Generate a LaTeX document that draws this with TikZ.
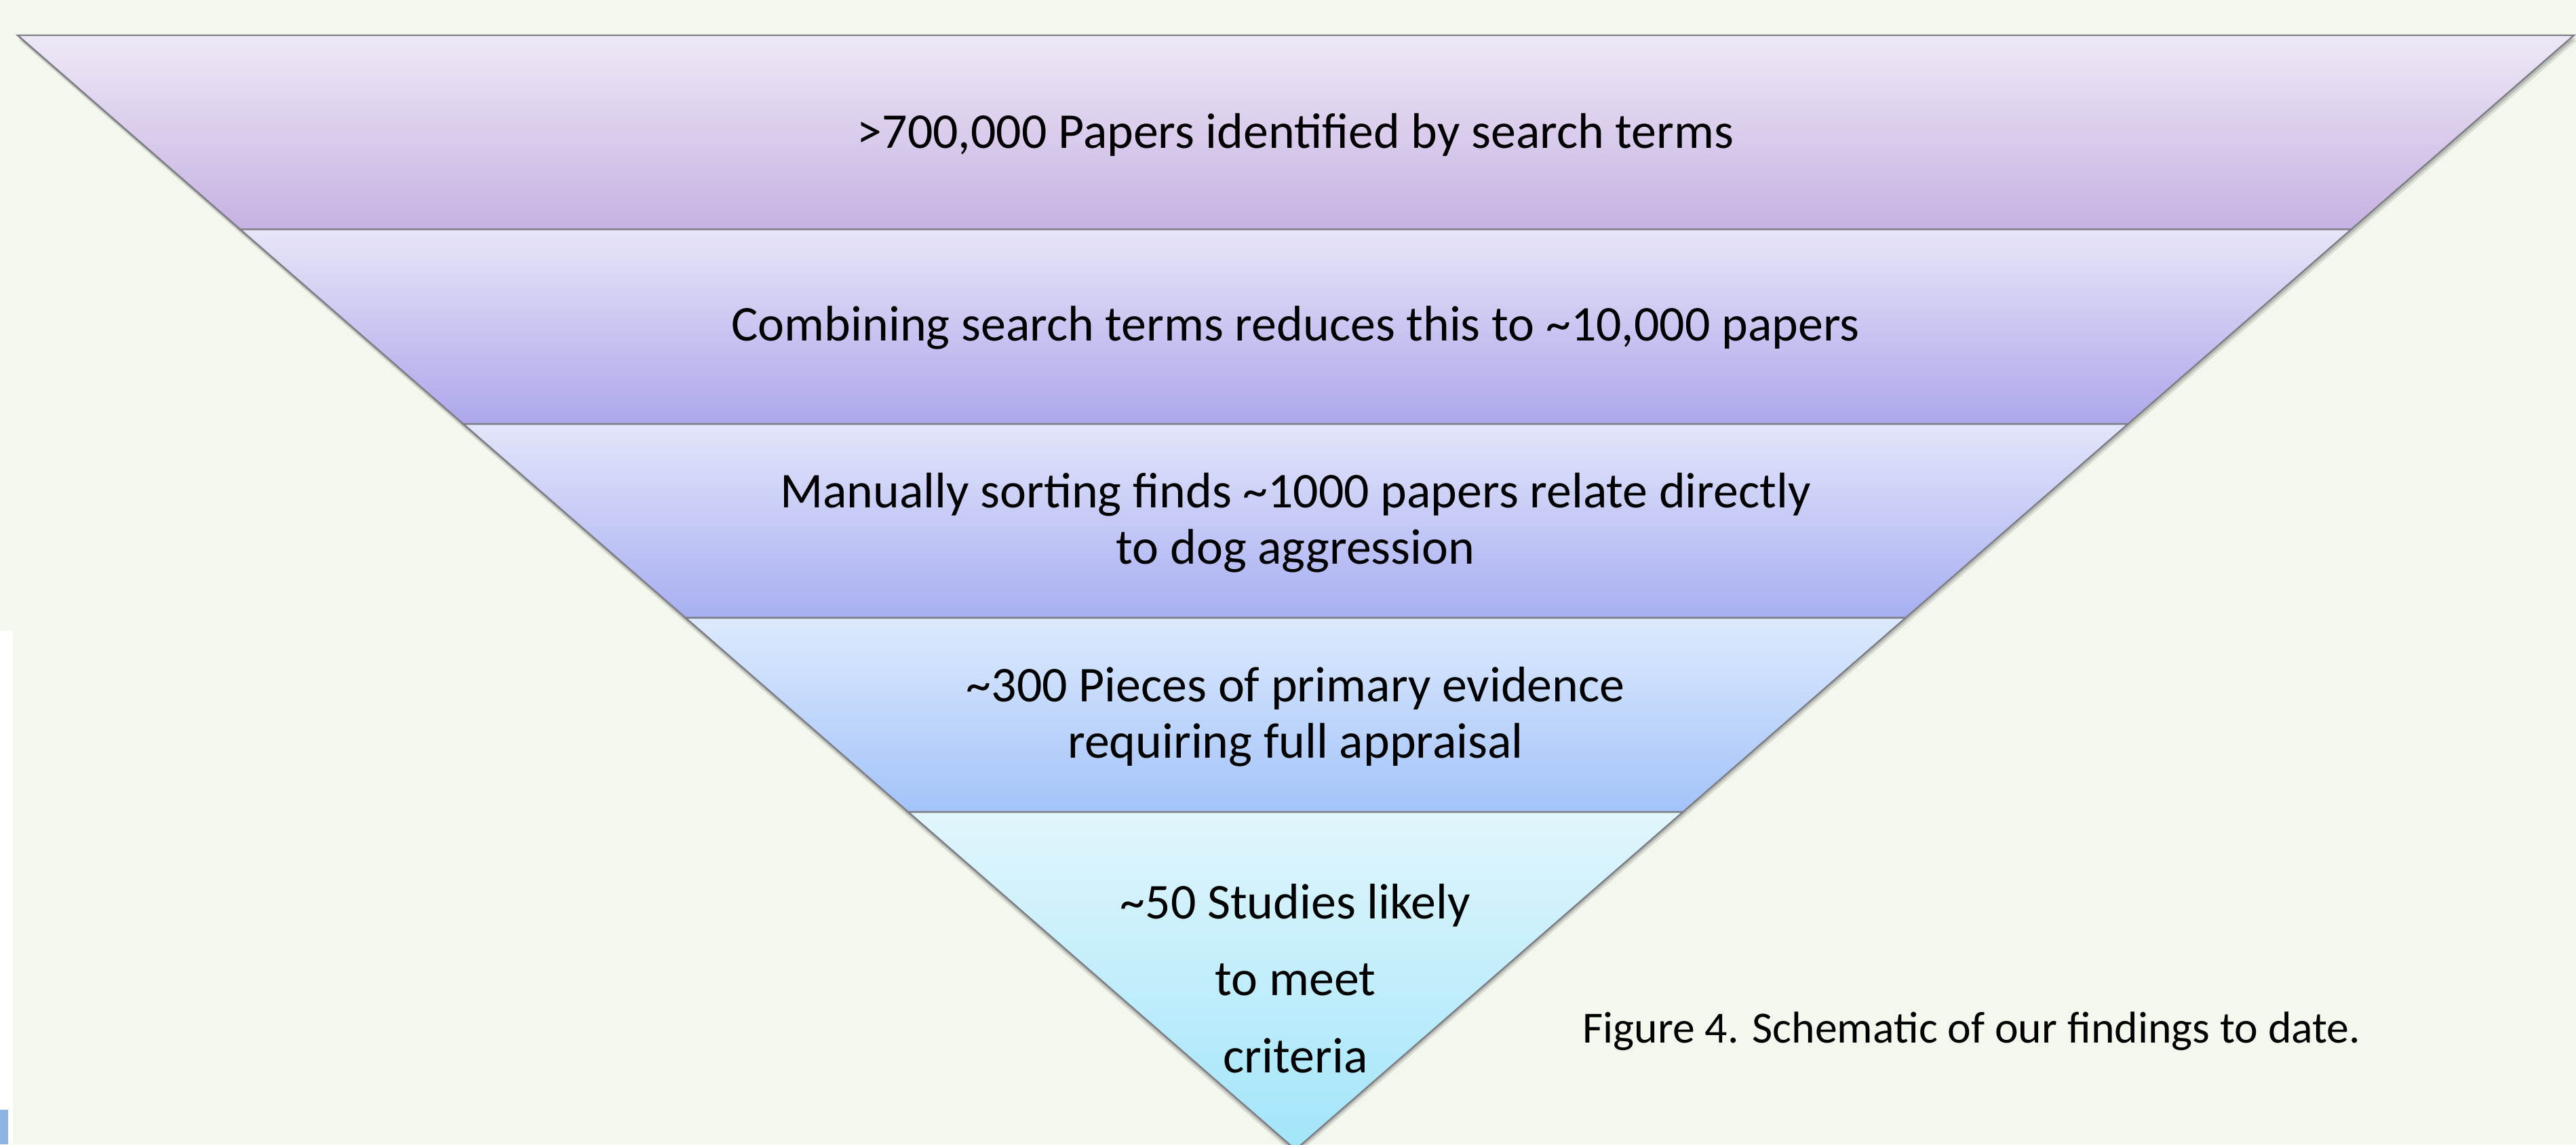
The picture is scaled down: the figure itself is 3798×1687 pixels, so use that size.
\documentclass[tikz,border=0pt]{standalone}
\usepackage{fontspec}
\setmainfont{Carlito}
\usepackage{xcolor}
\usetikzlibrary{calc}

\definecolor{pagegreen}{HTML}{F3F8EE}
\definecolor{edgegray}{HTML}{7E7E86}
\definecolor{tabblue}{HTML}{8EB4E3}
\definecolor{bandAtop}{HTML}{EEE8F6}
\definecolor{bandAbot}{HTML}{C5B2E2}
\definecolor{bandBtop}{HTML}{E7E5F8}
\definecolor{bandBbot}{HTML}{ADA7EB}
\definecolor{bandCtop}{HTML}{E3E5FA}
\definecolor{bandCbot}{HTML}{A7AFF1}
\definecolor{bandDtop}{HTML}{DDEAFD}
\definecolor{bandDbot}{HTML}{A3C3F9}
\definecolor{bandEtop}{HTML}{E1F6FC}
\definecolor{bandEbot}{HTML}{A2E5FA}

\tikzset{
  bandtext/.style={font=\fontsize{21}{23.6}\selectfont, align=center, inner sep=0pt},
  tiptext/.style={font=\fontsize{21}{32.2}\selectfont, align=center, inner sep=0pt},
  captiontext/.style={font=\fontsize{18.7}{22}\selectfont, inner sep=0pt},
  bandedge/.style={draw=edgegray, line width=0.7pt}
}

\begin{document}
\begin{tikzpicture}[x=0.01cm, y=-0.01cm]
\useasboundingbox (0,0) rectangle (3798,1687);
\clip (0,0) rectangle (3798,1687);

% Page background, white strip at the left
\fill[pagegreen] (0,0) rectangle (3798,1687);
\fill[white] (0,930) rectangle (19,1687);
\fill[tabblue] (0,1636) rectangle (12,1687);

% Corners of the funnel
\coordinate (topleft) at (26,52);
\coordinate (topright) at (3795,52);
\coordinate (apex) at (1910,1695);

% Soft shadow under the funnel
\fill[black, opacity=0.10] ([shift={(2,7)}]topleft) -- ([shift={(5,7)}]topright) -- ([shift={(0,9)}]apex) -- cycle;
\fill[black, opacity=0.15] ([shift={(1,4)}]topleft) -- ([shift={(3,4)}]topright) -- ([shift={(0,5)}]apex) -- cycle;

% Bands, top to bottom
\foreach \ta/\tb/\ctop/\cbot in {0/0.1741/bandAtop/bandAbot,
                                  0.1741/0.3488/bandBtop/bandBbot,
                                  0.3488/0.5228/bandCtop/bandCbot,
                                  0.5228/0.6969/bandDtop/bandDbot,
                                  0.6969/1/bandEtop/bandEbot}
  \shade[top color=\ctop, bottom color=\cbot, bandedge]
    ($(topleft)!\ta!(apex)$) -- ($(topright)!\ta!(apex)$)
    -- ($(topright)!\tb!(apex)$) -- ($(topleft)!\tb!(apex)$) -- cycle;

% Labels (base = baseline of the last line)
\node[bandtext, anchor=base] (searchhits) at (1910,218) {>700,000 Papers identified by search terms};
\node[bandtext, anchor=base] (combined) at (1910,502) {Combining search terms reduces this to \textasciitilde10,000 papers};
\node[bandtext, anchor=base] (sorted) at (1910,831) {Manually sorting finds \textasciitilde1000 papers relate directly\\to dog aggression};
\node[bandtext, anchor=base] (primary) at (1910,1117) {\textasciitilde300 Pieces of primary evidence\\requiring full appraisal};
\node[tiptext, anchor=base] (studies) at (1910,1581) {\textasciitilde50 Studies likely\\to meet\\criteria};

% Caption
\node[captiontext, anchor=base] (caption) at (2907,1537) {Figure 4. Schematic of our findings to date.};
\end{tikzpicture}
\end{document}
